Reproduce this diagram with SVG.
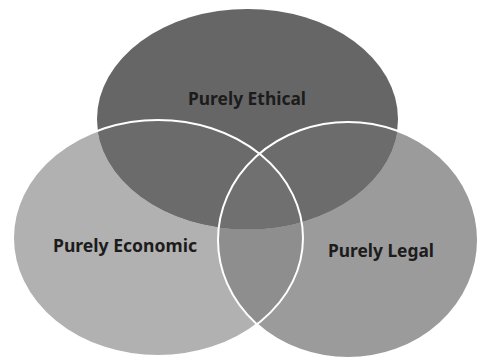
<svg xmlns="http://www.w3.org/2000/svg" width="479" height="358" viewBox="0 0 479 358">
  <style>
    .label { font-family: "Noto Sans", "Open Sans", "Liberation Sans", sans-serif; font-weight: bold; font-size: 17px; fill: #1c1c1c; text-anchor: middle; }
    .edge { fill: none; stroke: #ffffff; stroke-width: 2; }
  </style>
  <defs>
    <ellipse id="shape-ethical" cx="247.5" cy="119" rx="150.5" ry="110"/>
    <ellipse id="shape-economic" cx="158" cy="238" rx="145" ry="118"/>
    <ellipse id="shape-legal" cx="348" cy="240" rx="130" ry="118"/>
    <clipPath id="clip-economic"><use href="#shape-economic"/></clipPath>
    <clipPath id="clip-legal"><use href="#shape-legal"/></clipPath>
  </defs>
  <rect width="479" height="358" fill="#ffffff"/>

  <!-- base circles with shaded overlaps -->
  <g id="economic">
    <use href="#shape-economic" fill="#b1b1b1"/>
  </g>
  <g id="legal">
    <use href="#shape-legal" fill="#9b9b9b"/>
    <use href="#shape-legal" fill="#8e8e8e" clip-path="url(#clip-economic)"/>
  </g>
  <g id="ethical">
    <use href="#shape-ethical" fill="#666666"/>
    <use href="#shape-ethical" fill="#6b6b6b" clip-path="url(#clip-economic)"/>
    <use href="#shape-ethical" fill="#6c6c6c" clip-path="url(#clip-legal)"/>
    <g clip-path="url(#clip-economic)">
      <use href="#shape-ethical" fill="#707070" clip-path="url(#clip-legal)"/>
    </g>
  </g>

  <!-- white outlines of the lower two circles -->
  <g id="connectors">
    <use href="#shape-economic" class="edge"/>
    <use href="#shape-legal" class="edge" stroke-width="1.6"/>
  </g>

  <!-- labels -->
  <g id="labels">
    <text class="label" x="247" y="105" textLength="118" lengthAdjust="spacingAndGlyphs">Purely Ethical</text>
    <text class="label" x="125" y="252" textLength="144" lengthAdjust="spacingAndGlyphs">Purely Economic</text>
    <text class="label" x="381" y="257" textLength="106" lengthAdjust="spacingAndGlyphs">Purely Legal</text>
  </g>
</svg>
